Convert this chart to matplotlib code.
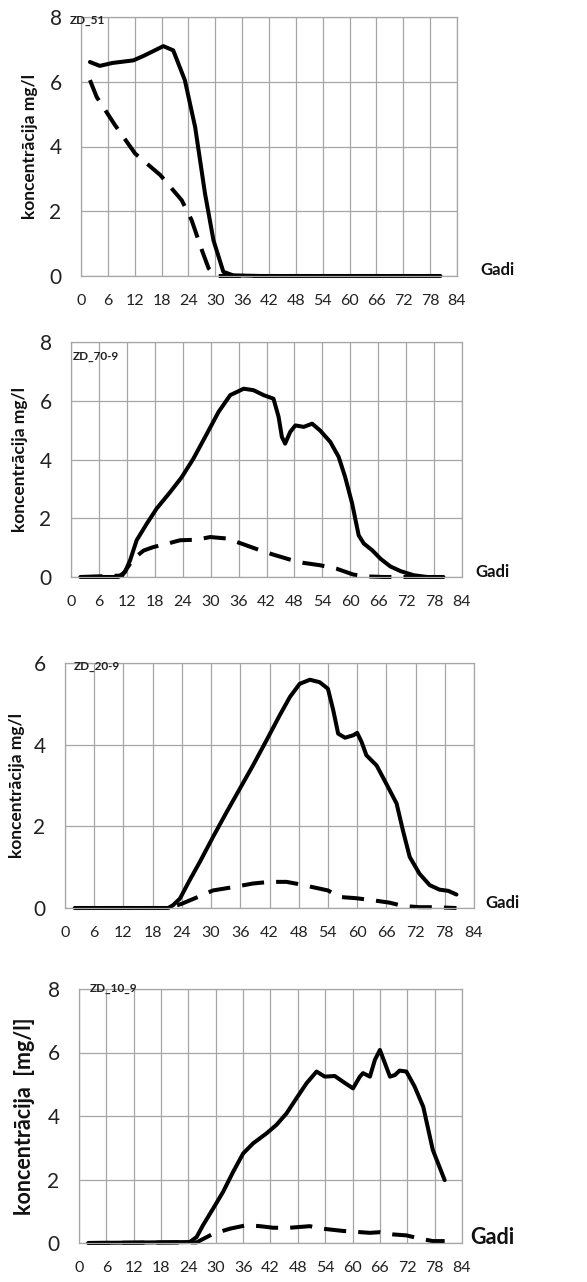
import matplotlib
matplotlib.use("Agg")
import matplotlib.pyplot as plt

plt.rcParams['font.family'] = ['Lato', 'DejaVu Sans']

W, H = 587, 1282

# ---------------- data ----------------
# ZD_51
p1_sx = [2, 4.2, 7, 11.7, 14, 18.4, 20.6, 23.2, 25.5, 27.7, 29.6, 31.8, 34, 40, 50, 60, 70, 80.3]
p1_sy = [6.61, 6.49, 6.58, 6.66, 6.8, 7.1, 6.97, 6.05, 4.6, 2.55, 1.1, 0.13, 0.02, 0, 0, 0, 0, 0]
p1_dx = [2, 3.5, 7.6, 12.1, 17.7, 22.5, 24.7, 27, 28.5, 30, 40, 60, 80]
p1_dy = [6.05, 5.53, 4.66, 3.78, 3.12, 2.34, 1.73, 0.8, 0.24, 0, 0, 0, 0]

# ZD_70-9
p2_sx = [2, 10.2, 11.6, 12.7, 14.1, 16.3, 18.4, 21.3, 23.8, 26.3, 29.2, 31.7, 34.2, 37.1, 39.2,
         41.4, 43.5, 44.6, 45.3, 46.0, 47.1, 48.2, 50, 51.8, 53.5, 55.7, 57.5, 58.9, 60.4, 61.8,
         62.9, 64.7, 66.5, 68.6, 70.8, 73.6, 76.5, 80]
p2_sy = [0, 0, 0.17, 0.57, 1.25, 1.82, 2.33, 2.89, 3.4, 4.03, 4.88, 5.62, 6.19, 6.41, 6.36,
         6.19, 6.07, 5.45, 4.77, 4.54, 4.94, 5.16, 5.11, 5.22, 4.99, 4.6, 4.09, 3.4, 2.5, 1.42,
         1.14, 0.91, 0.62, 0.36, 0.2, 0.06, 0, 0]
p2_dx = [2, 11, 13.4, 15.6, 17.7, 20.6, 23.4, 27, 29.9, 33.5, 37.1, 40.6, 43.5, 47.1, 50, 53.5,
         57.1, 60.7, 63.6, 67.2, 70.8, 80]
p2_dy = [0, 0.05, 0.62, 0.9, 1.02, 1.13, 1.25, 1.27, 1.36, 1.31, 1.11, 0.91, 0.76, 0.59, 0.48, 0.4,
         0.28, 0.08, 0.02, 0, 0, 0]

# ZD_20-9
p3_sx = [2, 21.2, 22.2, 23.6, 25.6, 27.7, 30.4, 33.2, 35.9, 38.6, 41.4, 44.1, 46.2, 48.2, 50.3,
         52.3, 54, 55.1, 56.1, 57.5, 59.2, 60, 60.9, 61.9, 64, 66, 68.1, 69.4, 70.8, 72.8, 74.9,
         76.9, 78.7, 80.4]
p3_sy = [0, 0, 0.07, 0.23, 0.68, 1.13, 1.74, 2.35, 2.92, 3.49, 4.11, 4.72, 5.17, 5.49, 5.59,
         5.53, 5.37, 4.84, 4.27, 4.17, 4.23, 4.29, 4.07, 3.74, 3.49, 3.04, 2.56, 1.9, 1.25, 0.84, 0.56,
         0.45, 0.42, 0.33]
p3_dx = [2, 21.2, 23.9, 27.7, 30.4, 34.5, 38.6, 42, 45.5, 48.2, 50.9, 54, 56.4, 59.8, 63.2, 66.7,
         69.4, 72.8, 75.6, 80.4]
p3_dy = [0, 0, 0.1, 0.29, 0.43, 0.51, 0.6, 0.64, 0.64, 0.58, 0.51, 0.43, 0.27, 0.24, 0.19, 0.13,
         0.05, 0.02, 0.02, 0]

# ZD_10_9
p4_sx = [2, 24.3, 25.8, 27.2, 29.4, 31.6, 33.8, 36, 38.2, 41.1, 43.3, 45.5, 47.7, 49.9, 52.1,
         53.9, 56.1, 57.9, 60.1, 61.6, 62.3, 63.8, 64.9, 66, 67.1, 68.2, 69.3, 70.3, 71.8, 73.6,
         75.5, 77.6, 80.2]
p4_sy = [0, 0.03, 0.19, 0.56, 1.08, 1.61, 2.24, 2.82, 3.14, 3.45, 3.72, 4.08, 4.56, 5.03, 5.4,
         5.24, 5.26, 5.08, 4.87, 5.24, 5.35, 5.24, 5.77, 6.08, 5.66, 5.24, 5.29, 5.43, 5.4, 4.93,
         4.29, 2.93, 1.98]
p4_dx = [2, 25.8, 29.4, 33.1, 36.7, 39.7, 42.6, 46.2, 50.6, 53.5, 57.9, 60.8, 63.8, 66, 68.9,
         71.8, 74.7, 77.6, 80.2]
p4_dy = [0, 0.02, 0.29, 0.45, 0.56, 0.53, 0.48, 0.48, 0.53, 0.45, 0.38, 0.35, 0.32, 0.34, 0.27,
         0.24, 0.14, 0.06, 0.06]

x_ticks = list(range(0, 85, 6))

panels = [
    dict(name="ZD_51", sx=p1_sx, sy=p1_sy, dx=p1_dx, dy=p1_dy, ymax=8,
         ylabel="koncentrācija mg/l"),
    dict(name="ZD_70-9", sx=p2_sx, sy=p2_sy, dx=p2_dx, dy=p2_dy, ymax=8,
         ylabel="koncentrācija mg/l"),
    dict(name="ZD_20-9", sx=p3_sx, sy=p3_sy, dx=p3_dx, dy=p3_dy, ymax=6,
         ylabel="koncentrācija mg/l"),
    dict(name="ZD_10_9", sx=p4_sx, sy=p4_sy, dx=p4_dx, dy=p4_dy, ymax=8,
         ylabel="koncentrācija  [mg/l]"),
]

# layout (pixels): left, right, top, bottom of plot area
rects = [(81, 457, 17, 276), (71, 462, 342, 577), (65, 474, 663, 908), (79, 462, 989, 1243)]
ylab_x = [30, 20, 17, 25]
ylab_fs = [12.5, 12.5, 12.5, 15.5]
gadi_pos = [(480, 270, 12), (475, 572, 12), (485, 903, 12), (470, 1237, 15.5)]
name_pos = [(70, 21), (73, 357), (74, 666), (90, 989)]

fig = plt.figure(figsize=(W / 100, H / 100), dpi=100)
grid_c = '#a6a6a6'

for i, p in enumerate(panels):
    l, r, t, b = rects[i]
    ax = fig.add_axes([l / W, 1 - b / H, (r - l) / W, (b - t) / H])
    ax.plot(p['dx'], p['dy'], color='black', lw=2.9, ls=(0, (5.5, 3)), clip_on=False,
            solid_capstyle='butt', dash_capstyle='butt')
    ax.plot(p['sx'], p['sy'], color='black', lw=2.9, clip_on=False, solid_joinstyle='round',
            solid_capstyle='round')
    ax.set_xlim(0, 84)
    ax.set_ylim(0, p['ymax'])
    ax.set_xticks(x_ticks)
    ax.set_yticks(range(0, p['ymax'] + 1, 2))
    ax.grid(True, color=grid_c, lw=0.9)
    ax.set_axisbelow(True)
    for s in ax.spines.values():
        s.set_color(grid_c)
        s.set_linewidth(0.9)
    ax.tick_params(axis='x', length=0, pad=13, labelsize=11.5, colors='#222222')
    ax.tick_params(axis='y', length=0, pad=14, labelsize=15, colors='#222222')
    cy = (t + b) / 2
    fig.text(ylab_x[i] / W, 1 - cy / H, p['ylabel'], rotation=90, ha='center', va='center',
             fontsize=ylab_fs[i], fontweight='bold', color='#111111')
    gx, gy, gfs = gadi_pos[i]
    fig.text(gx / W, 1 - gy / H, "Gadi", ha='left', va='center', fontsize=gfs,
             fontweight='bold', color='#111111')
    nx, ny = name_pos[i]
    fig.text(nx / W, 1 - ny / H, p['name'], ha='left', va='center', fontsize=8.5,
             fontweight='bold', color='#222222')

fig.savefig("out.png", dpi=100)
